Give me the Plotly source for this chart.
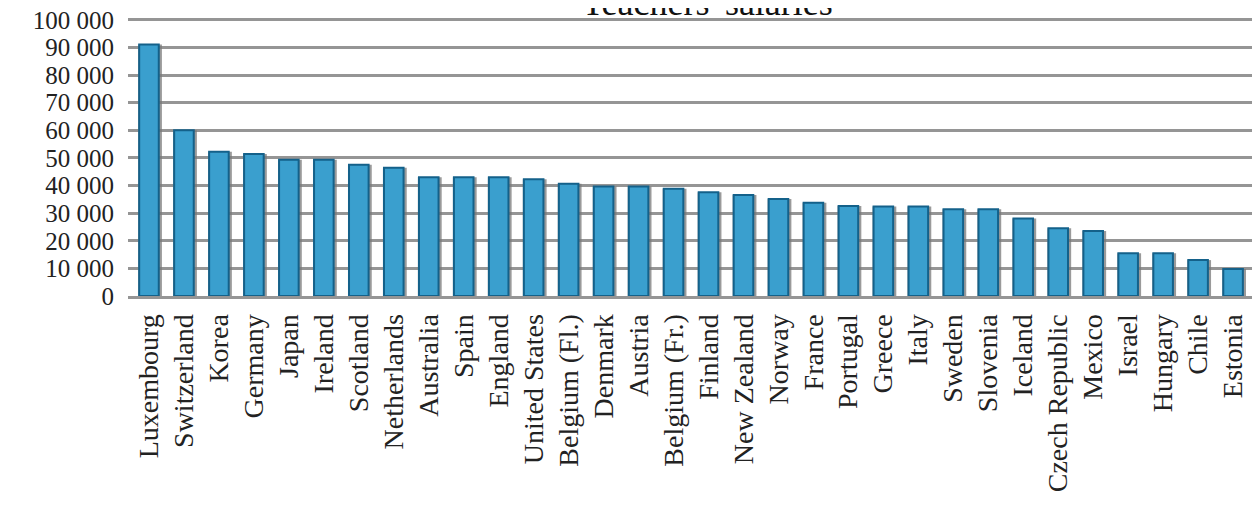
import plotly.graph_objects as go

countries = ["Luxembourg", "Switzerland", "Korea", "Germany", "Japan", "Ireland", "Scotland",
             "Netherlands", "Australia", "Spain", "England", "United States", "Belgium (Fl.)",
             "Denmark", "Austria", "Belgium (Fr.)", "Finland", "New Zealand", "Norway", "France",
             "Portugal", "Greece", "Italy", "Sweden", "Slovenia", "Iceland", "Czech Republic",
             "Mexico", "Israel", "Hungary", "Chile", "Estonia"]
salaries = [91000, 60000, 52200, 51400, 49300, 49300, 47500, 46400, 43000, 43000, 43000, 42300,
            40600, 39600, 39600, 38800, 37600, 36600, 35100, 33800, 32600, 32400, 32400, 31400,
            31400, 28100, 24500, 23500, 15500, 15500, 13000, 9800]
y_ticks = list(range(0, 100001, 10000))
title_text = "Teachers' salaries"

FONT = "Liberation Serif"

fig = go.Figure()
# shadow behind bars
fig.add_trace(go.Bar(
    x=countries, y=salaries, width=0.68, offset=-0.31,
    marker=dict(color="rgba(120,120,120,0.75)", line=dict(width=0)),
    hoverinfo="skip", showlegend=False))
# main bars
fig.add_trace(go.Bar(
    x=countries, y=salaries, width=0.56, offset=-0.28,
    marker=dict(color="#3a9fce", line=dict(color="#14618a", width=2)),
    showlegend=False))

fig.update_layout(
    width=1260, height=506,
    margin=dict(l=120, r=8, t=9, b=218, autoexpand=False),
    paper_bgcolor="white", plot_bgcolor="white",
    barmode="overlay",
    separators=", ",
    font=dict(family=FONT, color="#222222"),
    xaxis=dict(
        type="category", range=[-0.6, 31.77], automargin=False,
        tickangle=-90, tickfont=dict(family=FONT, size=28, color="#222222"),
        showgrid=False, showline=True, linecolor="#959595", linewidth=3,
        ticks="", ticklabelstandoff=4, ticklabeloverflow="allow"),
    yaxis=dict(
        range=[0, 101000], tickvals=y_ticks, tickformat=",d", automargin=False,
        tickfont=dict(family=FONT, size=25, color="#222222"),
        showgrid=True, gridcolor="#959595", gridwidth=3,
        zeroline=False, showline=False, ticks="", ticklabelstandoff=13,
        ticklabeloverflow="allow"),
    annotations=[dict(text=title_text, xref="paper", yref="paper", x=0.512, y=1.0,
                      xanchor="center", yanchor="bottom", showarrow=False, yshift=-8,
                      font=dict(family=FONT, size=36, color="#111111"))],
)

fig.write_html("out.html")
